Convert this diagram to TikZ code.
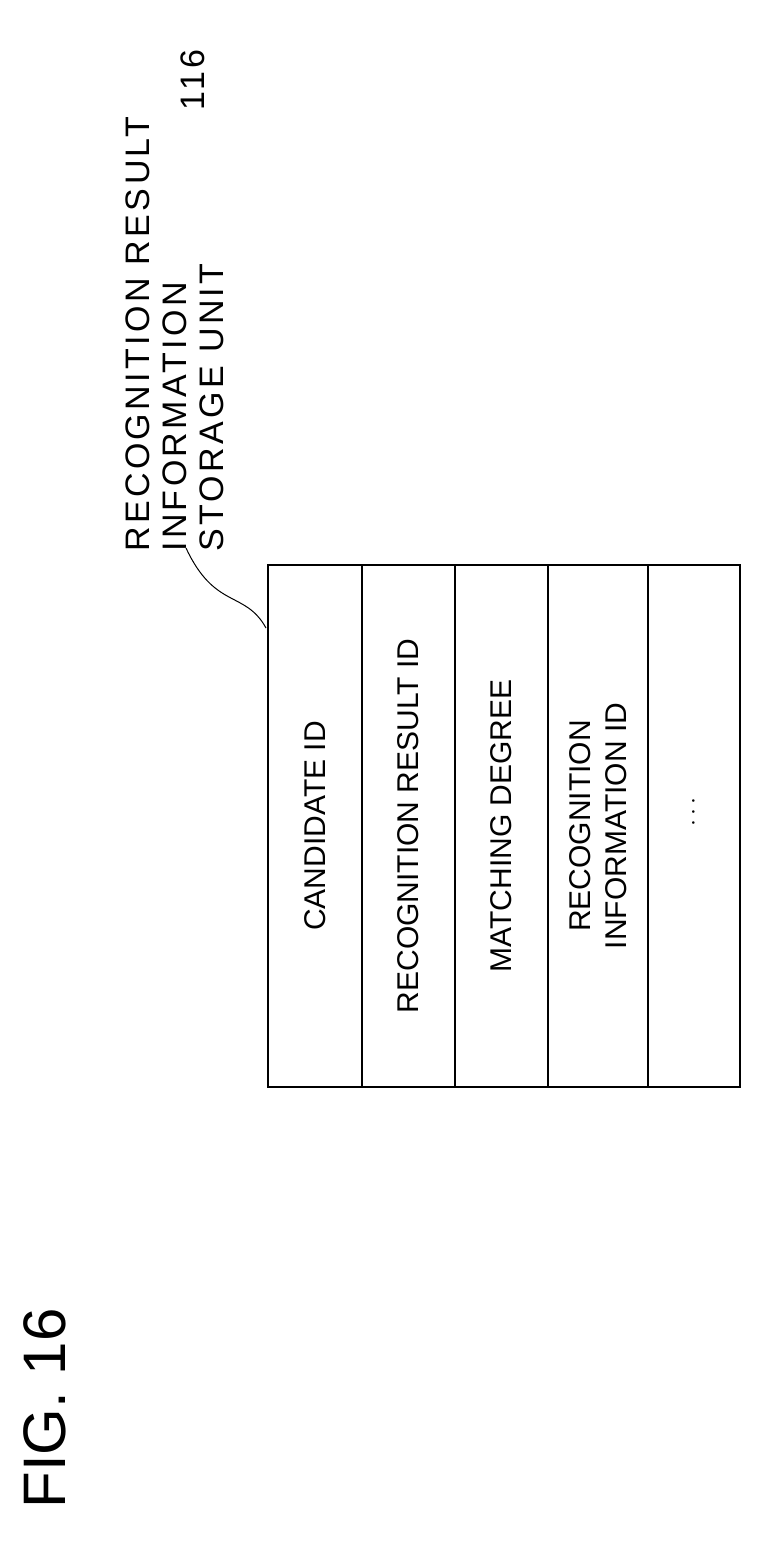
\documentclass[tikz,border=0pt]{standalone}
\usepackage{fontspec}
\setmainfont{Liberation Sans}
\begin{document}
\begin{tikzpicture}[x=1pt,y=-1pt,
  cell/.style={rotate=90,font=\fontsize{30}{36}\selectfont,align=center},
  box/.style={draw,line width=2pt}]
\useasboundingbox (0,0) rectangle (761,1550);
\draw[box] (268,565) rectangle (740,1087);
\foreach \x in {362,455,548,648} \draw[line width=1.6pt] (\x,565) -- (\x,1087);
\node[cell] (c1) at (315,826) {CANDIDATE ID};
\node[cell] (c2) at (408,826) {RECOGNITION RESULT ID};
\node[cell] (c3) at (501,826) {MATCHING DEGREE};
\node[cell] (c4) at (598,826) {RECOGNITION\\INFORMATION ID};
\node[cell] (c5) at (694,812) {\fontsize{40}{40}\selectfont$\cdots$};
\node[rotate=90,anchor=north west,align=left,font=\fontsize{34}{37}\selectfont\addfontfeatures{LetterSpace=10},inner sep=0pt] (lbl) at (126,552) {RECOGNITION RESULT\\INFORMATION\\STORAGE UNIT};
\node[rotate=90,font=\fontsize{34}{34}\selectfont\addfontfeatures{LetterSpace=10}] (num) at (193,80) {116};
\node[rotate=90,anchor=west,font=\fontsize{60}{64}\selectfont] (fig) at (45,1512) {FIG. 16};
\coordinate (a) at (266,628);
\coordinate (b) at (186,548);
\draw[line width=1pt] (a) .. controls (245,590) and (215,610) .. (b);
\end{tikzpicture}
\end{document}
